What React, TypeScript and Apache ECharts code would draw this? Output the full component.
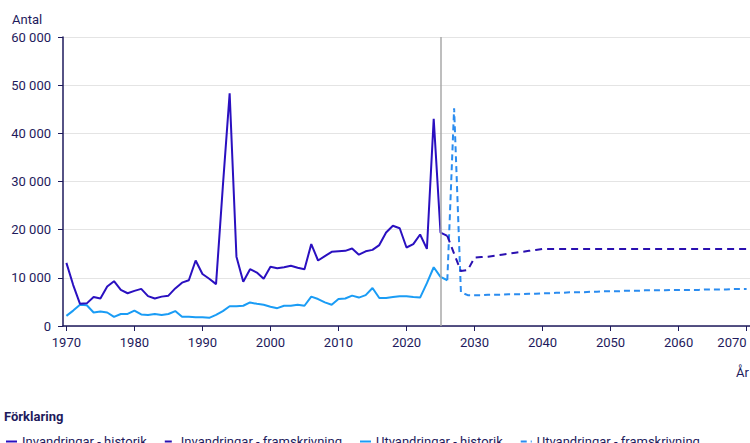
import React, { useEffect, useRef } from "react";
import * as echarts from "echarts";

const histYears: number[] = [
  1970, 1971, 1972, 1973, 1974, 1975, 1976, 1977, 1978, 1979,
  1980, 1981, 1982, 1983, 1984, 1985, 1986, 1987, 1988, 1989,
  1990, 1991, 1992, 1993, 1994, 1995, 1996, 1997, 1998, 1999,
  2000, 2001, 2002, 2003, 2004, 2005, 2006, 2007, 2008, 2009,
  2010, 2011, 2012, 2013, 2014, 2015, 2016, 2017, 2018, 2019,
  2020, 2021, 2022, 2023, 2024, 2025, 2026,
];

const invHist: number[] = [
  13100, 8500, 4600, 4700, 6000, 5700, 8200, 9300, 7500, 6800,
  7300, 7700, 6200, 5700, 6100, 6300, 7800, 9000, 9500, 13600,
  10800, 9800, 8700, 29000, 48300, 14400, 9200, 11800, 11100, 9800,
  12300, 12000, 12200, 12500, 12100, 11800, 17000, 13600, 14500, 15400,
  15500, 15600, 16100, 14800, 15500, 15800, 16800, 19400, 20800, 20300,
  16300, 17000, 19000, 16000, 43000, 19400, 18700,
];

const utvHist: number[] = [
  2100, 3200, 4400, 4300, 2800, 3000, 2800, 1900, 2500, 2500,
  3200, 2400, 2300, 2500, 2300, 2500, 3100, 1900, 1900, 1800,
  1800, 1700, 2300, 3100, 4100, 4100, 4200, 4900, 4600, 4400,
  4000, 3700, 4200, 4200, 4400, 4200, 6100, 5600, 4900, 4400,
  5600, 5700, 6300, 5900, 6400, 7900, 5800, 5800, 6000, 6200,
  6200, 6000, 5900, 8900, 12200, 10200, 9500,
];

const projYears: number[] = [
  2026, 2027, 2028, 2029, 2030, 2031, 2032, 2033, 2034, 2035,
  2036, 2037, 2038, 2039, 2040, 2041, 2042, 2043, 2044, 2045,
  2046, 2047, 2048, 2049, 2050, 2051, 2052, 2053, 2054, 2055,
  2056, 2057, 2058, 2059, 2060, 2061, 2062, 2063, 2064, 2065,
  2066, 2067, 2068, 2069, 2070,
];

const invProj: number[] = [
  18700, 15000, 11400, 11600, 14200, 14300, 14400, 14600, 14800, 15000,
  15200, 15400, 15600, 15800, 16000, 16000, 16000, 16000, 16000, 16000,
  16000, 16000, 16000, 16000, 16000, 16000, 16000, 16000, 16000, 16000,
  16000, 16000, 16000, 16000, 16000, 16000, 16000, 16000, 16000, 16000,
  16000, 16000, 16000, 16000, 16000,
];

const utvProj: number[] = [
  9500, 45200, 7000, 6400, 6400, 6400, 6500, 6500, 6500, 6600,
  6600, 6600, 6700, 6700, 6800, 6800, 6900, 6900, 7000, 7000,
  7000, 7100, 7100, 7200, 7200, 7200, 7300, 7300, 7300, 7400,
  7400, 7400, 7400, 7500, 7500, 7500, 7500, 7500, 7600, 7600,
  7600, 7600, 7700, 7700, 7700,
];

const xTicks: number[] = [1970, 1980, 1990, 2000, 2010, 2020, 2030, 2040, 2050, 2060, 2070];
const seriesNames: string[] = [
  "Invandringar - historik",
  "Invandringar - framskrivning",
  "Utvandringar - historik",
  "Utvandringar - framskrivning",
];
const splitYear = 2025;

const NAVY = "#1e1a5c";
const FONT = "Roboto";

function pairs(xs: number[], ys: number[]) {
  return xs.map((x, i) => [x, ys[i]]);
}

export default function App() {
  const ref = useRef<HTMLDivElement>(null);
  useEffect(() => {
    if (!ref.current) return;
    const chart = echarts.init(ref.current, undefined, { renderer: "svg" });
    chart.setOption({
      animation: false,
      textStyle: { fontFamily: FONT },
      grid: {
        left: 63,
        right: 0,
        top: 37,
        bottom: 117,
        containLabel: false,
        outerBoundsMode: "none",
      },
      xAxis: {
        type: "value",
        min: 1969.5,
        max: 2070.5,
        axisLine: { show: true, lineStyle: { color: NAVY, width: 1.5 } },
        axisTick: { show: true, customValues: xTicks, length: 5, lineStyle: { color: NAVY } },
        axisLabel: {
          customValues: xTicks,
          color: NAVY,
          fontSize: 13,
          fontFamily: FONT,
          margin: 10,
          hideOverlap: false,
          alignMaxLabel: "right",
          formatter: (v: number) => String(v),
        },
        splitLine: { show: false },
      },
      yAxis: {
        type: "value",
        min: 0,
        max: 60000,
        interval: 10000,
        axisLine: { show: true, lineStyle: { color: NAVY, width: 1.5 } },
        axisTick: { show: true, length: 5, lineStyle: { color: NAVY } },
        axisLabel: {
          color: NAVY,
          fontSize: 13,
          fontFamily: FONT,
          margin: 12,
          formatter: (v: number) => (v === 0 ? "0" : `${v / 1000} 000`),
        },
        splitLine: { show: true, lineStyle: { color: "#e4e4e4", width: 1 } },
      },
      legend: {
        left: 0,
        top: 430,
        itemWidth: 11,
        itemHeight: 8,
        itemGap: 17,
        itemStyle: { opacity: 0 },
        textStyle: { color: NAVY, fontSize: 13, fontFamily: FONT },
        data: seriesNames,
      },
      graphic: [
        { type: "text", left: 12, top: 13, style: { text: "Antal", fill: NAVY, font: `13px ${FONT}` } },
        { type: "text", left: 736, top: 366, style: { text: "År", fill: NAVY, font: `13px ${FONT}` } },
        { type: "text", left: 4, top: 410, style: { text: "Förklaring", fill: NAVY, font: `bold 13px ${FONT}` } },
      ],
      series: [
        {
          name: seriesNames[0],
          type: "line",
          data: pairs(histYears, invHist),
          symbol: "none",
          lineStyle: { color: "#2a10c0", width: 2 },
          itemStyle: { color: "#2a10c0" },
          z: 3,
          markLine: {
            silent: true,
            symbol: ["none", "none"],
            label: { show: false },
            lineStyle: { color: "#a8a8a8", type: "solid", width: 1.5 },
            data: [{ xAxis: splitYear }],
          },
        },
        {
          name: seriesNames[1],
          type: "line",
          data: pairs(projYears, invProj),
          symbol: "none",
          lineStyle: { color: "#2a10b0", width: 2, type: [7, 5] },
          itemStyle: { color: "#2a10b0" },
          z: 3,
        },
        {
          name: seriesNames[2],
          type: "line",
          data: pairs(histYears, utvHist),
          symbol: "none",
          lineStyle: { color: "#1a9cf5", width: 2 },
          itemStyle: { color: "#1a9cf5" },
          z: 2,
        },
        {
          name: seriesNames[3],
          type: "line",
          data: pairs(projYears, utvProj),
          symbol: "none",
          lineStyle: { color: "#2a8cf0", width: 2, type: [6, 4] },
          itemStyle: { color: "#2a8cf0" },
          z: 2,
        },
      ],
    });
    return () => chart.dispose();
  }, []);
  return (
    <div
      ref={ref}
      style={{ position: "fixed", left: 0, top: 0, width: 750, height: 443, background: "#fff" }}
    />
  );
}
